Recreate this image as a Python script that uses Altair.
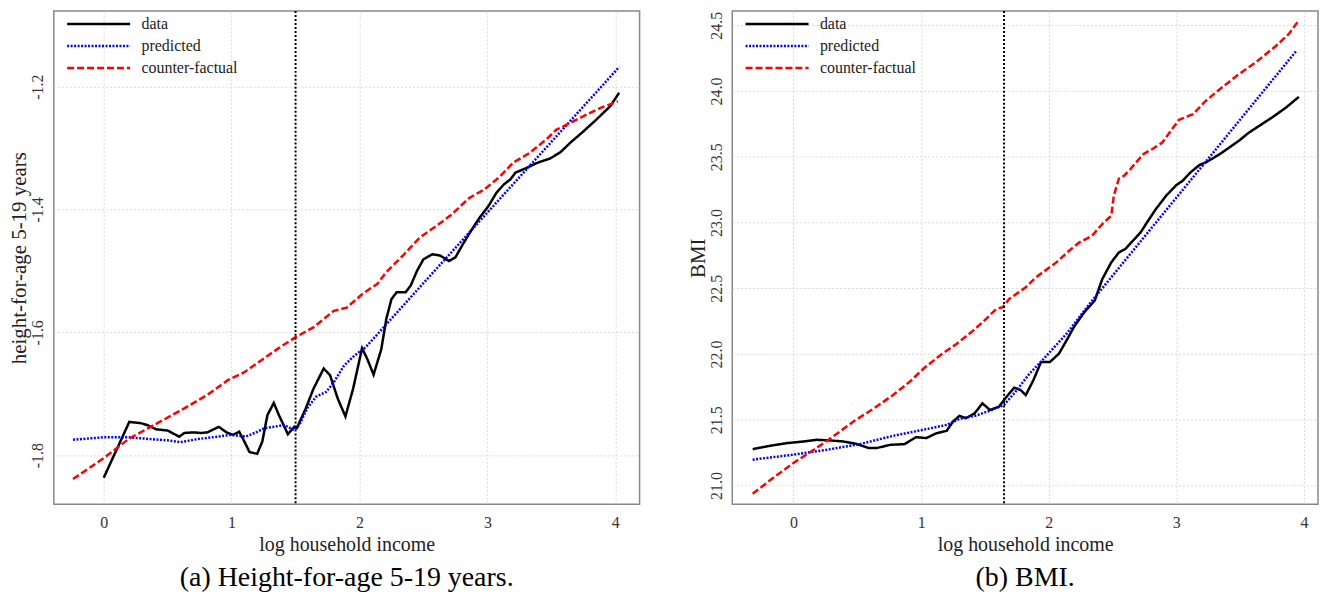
import altair as alt
import pandas as pd

series_names = ["data", "predicted", "counter-factual"]
series_colors = ["black", "blue", "red"]
series_dashes = [[1, 0], [2, 1.5], [7, 3]]

# (a) height-for-age 5-19 years
hfa_data_x = [0, 0.20, 0.29, 0.34, 0.41, 0.50, 0.59, 0.63, 0.70, 0.76, 0.81, 0.90, 0.96,
              1.01, 1.06, 1.10, 1.14, 1.20, 1.24, 1.28, 1.33, 1.37, 1.44, 1.49, 1.51, 1.58,
              1.64, 1.72, 1.77, 1.83, 1.89, 1.95, 2.02, 2.06, 2.11, 2.17, 2.21, 2.25, 2.29,
              2.36, 2.40, 2.45, 2.50, 2.57, 2.63, 2.70, 2.75, 2.81, 2.88, 2.94, 3.01, 3.07,
              3.13, 3.18, 3.22, 3.31, 3.39, 3.49, 3.57, 3.65, 3.75, 3.85, 3.96, 4.03]
hfa_data_y = [-1.837, -1.746, -1.748, -1.751, -1.758, -1.760, -1.770, -1.764, -1.763, -1.764,
              -1.763, -1.754, -1.763, -1.767, -1.762, -1.778, -1.795, -1.798, -1.778, -1.735,
              -1.715, -1.735, -1.766, -1.754, -1.756, -1.724, -1.692, -1.659, -1.670, -1.708,
              -1.737, -1.692, -1.626, -1.643, -1.669, -1.628, -1.578, -1.546, -1.535, -1.535,
              -1.524, -1.500, -1.481, -1.473, -1.475, -1.484, -1.478, -1.456, -1.432, -1.413,
              -1.394, -1.373, -1.359, -1.351, -1.340, -1.332, -1.324, -1.317, -1.307, -1.291,
              -1.273, -1.254, -1.232, -1.210]
hfa_pred_x = [-0.24, 0, 0.19, 0.37, 0.50, 0.60, 0.73, 0.89, 0.99, 1.11, 1.18, 1.26, 1.33,
              1.41, 1.49, 1.53, 1.59, 1.66, 1.74, 1.80, 1.88, 1.96, 2.05, 2.5, 3.0, 3.5, 4.03]
hfa_pred_y = [-1.775, -1.771, -1.771, -1.774, -1.776, -1.779, -1.774, -1.770, -1.767, -1.770,
              -1.764, -1.756, -1.754, -1.751, -1.759, -1.751, -1.724, -1.705, -1.697, -1.681,
              -1.654, -1.638, -1.624, -1.520, -1.405, -1.290, -1.168]
hfa_cf_x = [-0.24, 0, 0.2, 0.42, 0.63, 0.81, 0.97, 1.10, 1.23, 1.36, 1.50, 1.64, 1.80, 1.90,
            2.02, 2.14, 2.21, 2.34, 2.47, 2.60, 2.71, 2.86, 2.98, 3.10, 3.20, 3.33, 3.46, 3.54,
            3.65, 3.78, 3.88, 4.02]
hfa_cf_y = [-1.839, -1.805, -1.773, -1.748, -1.724, -1.702, -1.678, -1.665, -1.646, -1.627,
            -1.608, -1.592, -1.565, -1.560, -1.538, -1.521, -1.502, -1.475, -1.446, -1.427,
            -1.410, -1.381, -1.367, -1.346, -1.324, -1.308, -1.286, -1.270, -1.259, -1.245,
            -1.235, -1.224]
hfa_cutoff = 1.5
hfa_yticks = [-1.8, -1.6, -1.4, -1.2]

# (b) BMI
bmi_data_x = [-0.32, -0.18, -0.05, 0.08, 0.18, 0.29, 0.39, 0.49, 0.59, 0.65, 0.76, 0.87, 0.96,
              1.04, 1.12, 1.20, 1.25, 1.30, 1.35, 1.42, 1.48, 1.54, 1.61, 1.67, 1.73, 1.78,
              1.82, 1.88, 1.94, 2.01, 2.08, 2.14, 2.20, 2.28, 2.36, 2.42, 2.49, 2.55, 2.60,
              2.66, 2.72, 2.77, 2.84, 2.92, 3.00, 3.05, 3.11, 3.18, 3.24, 3.34, 3.49, 3.57,
              3.75, 3.86, 3.96]
bmi_data_y = [21.277, 21.303, 21.323, 21.335, 21.348, 21.343, 21.335, 21.318, 21.285, 21.285,
              21.310, 21.315, 21.368, 21.361, 21.398, 21.416, 21.487, 21.530, 21.512, 21.550,
              21.625, 21.575, 21.600, 21.676, 21.744, 21.726, 21.688, 21.802, 21.940, 21.940,
              22.003, 22.104, 22.210, 22.320, 22.406, 22.571, 22.697, 22.773, 22.799, 22.862,
              22.925, 23.001, 23.103, 23.204, 23.285, 23.318, 23.381, 23.437, 23.462, 23.520,
              23.622, 23.685, 23.799, 23.875, 23.956]
bmi_pred_x = [-0.32, 0, 0.26, 0.52, 0.78, 1.04, 1.20, 1.30, 1.43, 1.54, 1.65, 1.74, 1.85,
              1.95, 2.14, 2.33, 2.8, 3.3, 3.6, 3.94]
bmi_pred_y = [21.197, 21.235, 21.272, 21.315, 21.378, 21.429, 21.461, 21.507, 21.532, 21.570,
              21.613, 21.714, 21.852, 21.953, 22.155, 22.394, 22.952, 23.545, 23.902, 24.305]
bmi_cf_x = [-0.32, -0.16, 0, 0.16, 0.31, 0.47, 0.63, 0.78, 0.91, 1.02, 1.15, 1.28, 1.41, 1.51,
            1.59, 1.64, 1.69, 1.82, 1.90, 2.06, 2.16, 2.24, 2.34, 2.42, 2.49, 2.51, 2.55, 2.59,
            2.64, 2.74, 2.81, 2.89, 3.02, 3.13, 3.23, 3.34, 3.49, 3.62, 3.78, 3.88, 3.95]
bmi_cf_y = [20.937, 21.058, 21.172, 21.272, 21.373, 21.487, 21.587, 21.688, 21.789, 21.890,
            21.991, 22.079, 22.180, 22.268, 22.344, 22.356, 22.419, 22.508, 22.584, 22.697,
            22.786, 22.849, 22.900, 22.989, 23.052, 23.204, 23.335, 23.356, 23.406, 23.520,
            23.558, 23.609, 23.781, 23.824, 23.925, 24.014, 24.128, 24.216, 24.343, 24.432,
            24.525]
bmi_cutoff = 1.65
bmi_yticks = [21.0, 21.5, 22.0, 22.5, 23.0, 23.5, 24.0, 24.5]

x_ticks = [0, 1, 2, 3, 4]
serif = "Liberation Serif"


def long_table(pairs):
    frames = [pd.DataFrame({"x": xs, "y": ys, "series": name})
              for name, (xs, ys) in zip(series_names, pairs)]
    return pd.concat(frames, ignore_index=True)


# un panneau: courbes + ligne verticale du seuil
def panel(df, cutoff, x_domain, y_domain, y_ticks, y_title, caption, y_format, width):
    legend = alt.Legend(title=None, orient="none", legendX=12, legendY=5, symbolType="stroke",
                        symbolSize=4000, symbolStrokeWidth=2.5, clipHeight=16,
                        labelFont=serif, labelFontSize=16, labelColor="#222",
                        labelOffset=10, rowPadding=6)
    lines = alt.Chart(df).mark_line(strokeWidth=2.5).encode(
        x=alt.X("x:Q", scale=alt.Scale(domain=x_domain, nice=False, zero=False),
                axis=alt.Axis(values=x_ticks, format="d", title="log household income")),
        y=alt.Y("y:Q", scale=alt.Scale(domain=y_domain, nice=False, zero=False),
                axis=alt.Axis(values=y_ticks, format=y_format, title=y_title,
                              labelExpr="replace(datum.label, '\u2212', '-')")),
        color=alt.Color("series:N", sort=series_names,
                        scale=alt.Scale(domain=series_names, range=series_colors), legend=legend),
        strokeDash=alt.StrokeDash("series:N", sort=series_names,
                                  scale=alt.Scale(domain=series_names, range=series_dashes),
                                  legend=legend),
    )
    rule = alt.Chart(pd.DataFrame({"x": [cutoff]})).mark_rule(
        color="black", strokeWidth=2, strokeDash=[2, 2]).encode(x="x:Q")
    return alt.layer(lines, rule).properties(
        width=width, height=495,
        title=alt.TitleParams(caption, orient="bottom", anchor="middle", frame="group",
                              font=serif, fontSize=28, fontWeight="normal", color="black",
                              offset=10))


left = panel(long_table([(hfa_data_x, hfa_data_y), (hfa_pred_x, hfa_pred_y), (hfa_cf_x, hfa_cf_y)]),
             hfa_cutoff, [-0.39, 4.19], [-1.88, -1.077], hfa_yticks,
             "height-for-age 5-19 years", "(a) Height-for-age 5-19 years.", ".1f", 588)
right = panel(long_table([(bmi_data_x, bmi_data_y), (bmi_pred_x, bmi_pred_y), (bmi_cf_x, bmi_cf_y)]),
              bmi_cutoff, [-0.48, 4.11], [20.858, 24.608], bmi_yticks,
              "BMI", "(b) BMI.", ".1f", 588)

chart = (alt.hconcat(left, right, spacing=46)
         .resolve_scale(x="independent", y="independent", color="independent",
                        strokeDash="independent")
         .properties(padding={"left": 0, "top": 0, "right": 0, "bottom": 0})
         .configure_view(stroke="#888888", strokeWidth=1.5)
         .configure_axis(labelFont=serif, titleFont=serif, labelFontSize=16, titleFontSize=20,
                         titleFontWeight="normal", labelColor="#333", titleColor="#222",
                         ticks=False, domain=False, labelPadding=10, titlePadding=4,
                         gridColor="#d9d9d9", gridDash=[2, 2], gridWidth=1)
         .configure_axisY(labelAngle=270, labelAlign="center", labelBaseline="bottom",
                          labelPadding=8, titlePadding=0, titleFontSize=21)
         )

chart.save("out.html", embed_options={"renderer": "svg", "actions": False})
